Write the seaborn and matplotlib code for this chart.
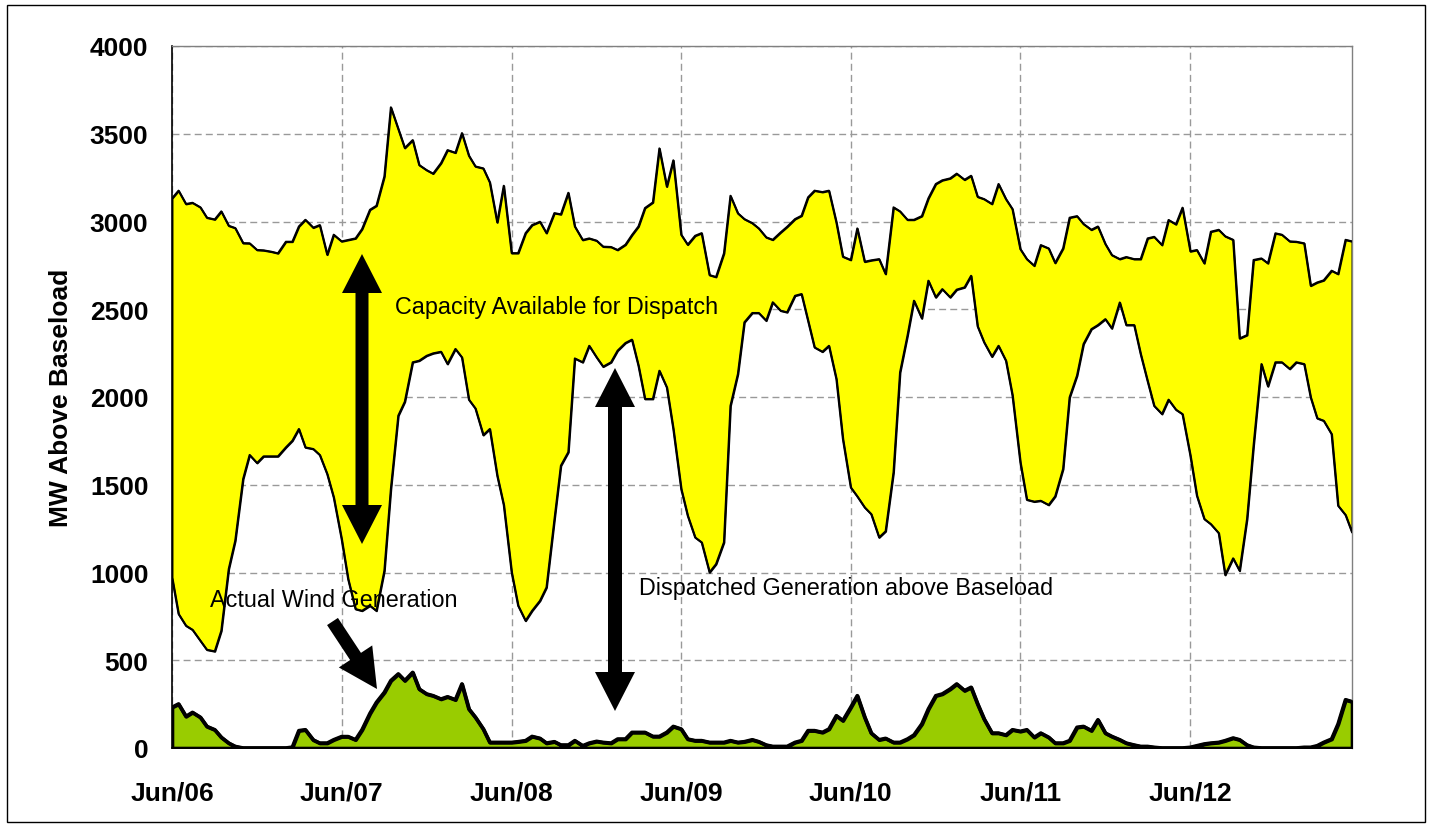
import numpy as np
import pandas as pd
import matplotlib
matplotlib.use("Agg")
import matplotlib.pyplot as plt
import matplotlib.transforms as mtransforms
from matplotlib.patches import Polygon, Rectangle
import seaborn as sns

# semi-monthly values, Jun 2006 - May 2013, MW above baseload
capacity = [3132, 3176, 3100, 3107, 3081, 3022, 3012, 3058, 2976, 2963,
            2877, 2876, 2838, 2836, 2828, 2819, 2885, 2885, 2972, 3010,
            2965, 2980, 2811, 2925, 2887, 2895, 2904, 2957, 3067, 3090,
            3257, 3651, 3527, 3419, 3464, 3322, 3293, 3273, 3333, 3407,
            3392, 3504, 3375, 3314, 3303, 3223, 2995, 3204, 2820, 2820,
            2934, 2980, 2999, 2934, 3048, 3041, 3164, 2972, 2895, 2904,
            2891, 2857, 2855, 2838, 2868, 2923, 2972, 3077, 3109, 3417,
            3199, 3349, 2925, 2868, 2919, 2934, 2695, 2684, 2819, 3147,
            3047, 3014, 2991, 2961, 2910, 2896, 2938, 2970, 3014, 3033,
            3138, 3176, 3168, 3176, 2995, 2800, 2781, 2961, 2771, 2779,
            2786, 2701, 3081, 3058, 3010, 3010, 3031, 3132, 3214, 3235,
            3246, 3273, 3238, 3261, 3141, 3128, 3100, 3214, 3128, 3071,
            2843, 2786, 2748, 2866, 2847, 2764, 2847, 3022, 3031, 2986,
            2953, 2972, 2872, 2809, 2786, 2798, 2786, 2786, 2904, 2913,
            2866, 3009, 2984, 3079, 2830, 2838, 2762, 2942, 2953, 2916,
            2896, 2334, 2353, 2781, 2790, 2762, 2933, 2925, 2887, 2885,
            2876, 2634, 2653, 2665, 2720, 2701, 2896, 2887]

dispatched = [972, 764, 697, 674, 611, 560, 551, 668, 1020, 1181,
              1533, 1670, 1624, 1662, 1662, 1662, 1713, 1751, 1818, 1713,
              1704, 1670, 1561, 1428, 1191, 963, 792, 782, 811, 782,
              1010, 1476, 1894, 1973, 2198, 2207, 2235, 2249, 2258, 2188,
              2274, 2226, 1985, 1935, 1783, 1818, 1552, 1385, 1001, 811,
              725, 782, 839, 915, 1300, 1609, 1686, 2220, 2198, 2292,
              2226, 2173, 2198, 2264, 2308, 2327, 2178, 1989, 1989, 2150,
              2055, 1818, 1476, 1324, 1200, 1172, 1001, 1048, 1172, 1950,
              2131, 2426, 2479, 2479, 2435, 2540, 2492, 2483, 2577, 2587,
              2435, 2283, 2258, 2292, 2102, 1761, 1485, 1434, 1371, 1333,
              1200, 1235, 1571, 2140, 2349, 2549, 2448, 2663, 2568, 2615,
              2568, 2612, 2625, 2691, 2403, 2312, 2230, 2292, 2207, 2010,
              1628, 1415, 1404, 1409, 1385, 1434, 1590, 1998, 2122, 2302,
              2387, 2410, 2444, 2391, 2539, 2410, 2410, 2245, 2090, 1950,
              1903, 1985, 1928, 1903, 1666, 1438, 1305, 1276, 1225, 986,
              1081, 1010, 1305, 1723, 2188, 2061, 2198, 2198, 2160, 2198,
              2188, 1998, 1879, 1865, 1789, 1381, 1328, 1229]

wind = [232, 251, 180, 203, 175, 123, 104, 61, 28, 9,
        0, 0, 0, 0, 0, 0, 0, 5, 99, 104,
        46, 28, 28, 47, 65, 65, 47, 104, 197, 260,
        317, 384, 422, 384, 431, 336, 308, 298, 279, 292,
        275, 365, 222, 175, 108, 32, 32, 32, 32, 36,
        42, 66, 55, 28, 36, 17, 17, 42, 13, 28,
        38, 32, 28, 51, 51, 89, 89, 89, 66, 66,
        89, 123, 108, 51, 42, 42, 32, 32, 32, 42,
        32, 36, 47, 36, 17, 9, 9, 9, 32, 42,
        99, 99, 89, 108, 184, 156, 232, 298, 175, 85,
        47, 55, 32, 32, 51, 74, 137, 222, 298, 308,
        336, 365, 327, 346, 251, 165, 85, 85, 74, 104,
        95, 104, 61, 85, 61, 28, 28, 42, 118, 123,
        99, 161, 85, 66, 47, 28, 17, 9, 9, 4,
        0, 0, 0, 0, 4, 13, 23, 28, 32, 42,
        57, 47, 17, 4, 0, 0, 0, 0, 0, 0,
        4, 4, 13, 32, 51, 137, 275, 264]

dates = pd.date_range("2006-06-01", periods=len(capacity), freq="SMS")
tick_dates = [pd.Timestamp(f"{y}-06-01") for y in range(2006, 2013)]
tick_labels = [d.strftime("%b/%y") for d in tick_dates]
y_ticks = list(range(0, 4001, 500))

df = pd.DataFrame({"date": dates, "capacity": capacity,
                   "dispatched": dispatched, "wind": wind})

sns.set_style("white")
plt.rcParams["font.family"] = ["Liberation Sans", "DejaVu Sans"]
plt.rcParams["text.color"] = "black"
plt.rcParams["axes.labelcolor"] = "black"
plt.rcParams["xtick.color"] = "black"
plt.rcParams["ytick.color"] = "black"

fig = plt.figure(figsize=(14.32, 8.29), dpi=100)
ax = fig.add_axes([172 / 1432, 80 / 829, 1180 / 1432, 702 / 829])

ax.fill_between(df["date"], df["dispatched"], df["capacity"],
                facecolor="#FFFF00", edgecolor="black", lw=1.4, zorder=2)
sns.lineplot(data=df, x="date", y="capacity", color="black", lw=1.4, ax=ax, zorder=3)
sns.lineplot(data=df, x="date", y="dispatched", color="black", lw=1.4, ax=ax, zorder=3)
ax.fill_between(df["date"], 0, df["wind"],
                facecolor="#99CC00", edgecolor="black", lw=2.6, zorder=4)
sns.lineplot(data=df, x="date", y="wind", color="black", lw=2.6, ax=ax, zorder=5)

ax.set_xlim(dates[0], dates[-1])
ax.set_ylim(0, 4000)
ax.set_xticks(tick_dates)
ax.set_xticklabels(tick_labels)
ax.set_yticks(y_ticks)
ax.set_xlabel("")
ax.set_ylabel("MW Above Baseload", fontsize=19, fontweight="bold")
ax.yaxis.set_label_coords(-0.084, 0.5)

ax.grid(True, color="#999999", lw=1, linestyle=(0, (5, 3)))
ax.set_axisbelow(True)
ax.tick_params(axis="both", direction="out", length=6.5, width=1, color="black",
               labelcolor="black", labelsize=19)
ax.tick_params(axis="x", pad=17)
ax.tick_params(axis="y", pad=10.5)
for lab in ax.get_xticklabels() + ax.get_yticklabels():
    lab.set_fontweight("bold")
for side in ["left", "bottom"]:
    ax.spines[side].set_color("black")
    ax.spines[side].set_linewidth(1.2)
for side in ["top", "right"]:
    ax.spines[side].set_color("#808080")
    ax.spines[side].set_linewidth(1)

# pixel coordinates inside the axes for the annotations
px = mtransforms.Affine2D().scale(1 / 1180, 1 / 702) + ax.transAxes


def arrow_points(tail, tip, shaft=6.5, head_len=39, head_w=20, double=False):
    tail, tip = np.array(tail, float), np.array(tip, float)
    u = (tip - tail) / np.hypot(*(tip - tail))
    n = np.array([-u[1], u[0]])
    b1 = tip - u * head_len
    if double:
        b0 = tail + u * head_len
        return [tail, b0 - n * head_w, b0 - n * shaft, b1 - n * shaft, b1 - n * head_w,
                tip, b1 + n * head_w, b1 + n * shaft, b0 + n * shaft, b0 + n * head_w]
    return [tail - n * shaft, b1 - n * shaft, b1 - n * head_w, tip,
            b1 + n * head_w, b1 + n * shaft, tail + n * shaft]


for pts in [arrow_points((190, 204), (190, 494), double=True),
            arrow_points((443, 37), (443, 380), shaft=7, double=True),
            arrow_points((160.5, 126.5), (205, 59))]:
    ax.add_patch(Polygon(pts, closed=True, facecolor="black", edgecolor="none",
                         transform=px, zorder=6))

ax.text(223, 435, "Capacity Available for Dispatch", transform=px, fontsize=16.8,
        color="black", ha="left", va="baseline", zorder=7)
ax.text(467, 154, "Dispatched Generation above Baseload", transform=px, fontsize=16.8,
        color="black", ha="left", va="baseline", zorder=7)
ax.text(38, 142, "Actual Wind Generation", transform=px, fontsize=16.8,
        color="black", ha="left", va="baseline", zorder=7)

fig.patches.append(Rectangle((7 / 1432, 6 / 829), 1418 / 1432, 817 / 829,
                             transform=fig.transFigure, fill=False,
                             edgecolor="black", lw=1))

fig.savefig("out.png", dpi=100)
